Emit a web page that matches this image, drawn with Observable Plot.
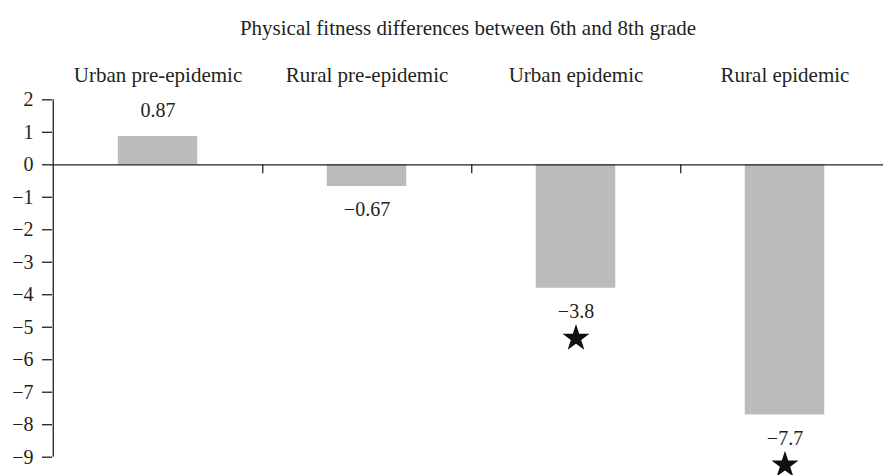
<!DOCTYPE html>
<html><head><meta charset="utf-8">
<script src="https://cdn.jsdelivr.net/npm/d3@7"></script>
<script src="https://cdn.jsdelivr.net/npm/@observablehq/plot@0.6"></script>
<style>
html,body{margin:0;padding:0;background:#fff;}
svg{display:block;}
</style>
</head><body><div id="chart"></div>
<script>
const title = "Physical fitness differences between 6th and 8th grade";
const categories = ["Urban pre-epidemic", "Rural pre-epidemic", "Urban epidemic", "Rural epidemic"];
const values = [0.87, -0.67, -3.8, -7.7];
const significant = [false, false, true, true];
const yTicks = [2, 1, 0, -1, -2, -3, -4, -5, -6, -7, -8, -9];

const data = categories.map((c, i) => ({category: c, value: values[i], sig: significant[i]}));

const W = 883, H = 475;
const mL = 52, mT = 99.3, mB = 475 - 456.7;
const xRange = [mL, 890];
const bw = (xRange[1] - xRange[0]) / categories.length;
const barW = 80;
const pxPerUnit = (H - mB - mT) / (2 - (-9));
const fmt = v => (v < 0 ? "\u2212" : "") + Math.abs(v);
const ink = "#231f20";
const fsNum = 20, fsText = 21;

const plot = Plot.plot({
  width: W, height: H,
  marginLeft: mL, marginRight: 0, marginTop: mT, marginBottom: mB,
  style: {fontFamily: "'Liberation Serif', 'DejaVu Serif', serif", fontSize: fsNum + "px", color: ink, background: "#fff"},
  x: {domain: categories, range: xRange, padding: 0, axis: null},
  y: {domain: [-9, 2], axis: null},
  marks: [
    Plot.barY(data, {x: "category", y: "value", fill: "#bbbbbb", insetLeft: (bw - barW) / 2, insetRight: (bw - barW) / 2}),
    Plot.ruleY([0], {stroke: ink, strokeWidth: 1.3}),
    Plot.ruleX(categories.slice(0, -1), {x: d => d, y1: 0, y2: -9 / pxPerUnit, dx: bw / 2, stroke: ink, strokeWidth: 1.3}),
    Plot.ruleX([categories[0]], {x: d => d, y1: -9, y2: 2, dx: -bw / 2, stroke: ink, strokeWidth: 1.3}),
    Plot.axisY({ticks: yTicks, tickSize: 10, tickPadding: 9, tickFormat: fmt, label: null, stroke: ink, strokeWidth: 1.3, fontSize: fsNum, fill: ink}),
    Plot.text(data.filter(d => d.value >= 0), {x: "category", y: "value", text: d => fmt(d.value), dy: -26, fill: ink, fontSize: fsNum}),
    Plot.text(data.filter(d => d.value < 0), {x: "category", y: "value", text: d => fmt(d.value), dy: 23.5, fill: ink, fontSize: fsNum}),
    Plot.dot(data.filter(d => d.sig), {x: "category", y: "value", symbol: "star", r: 8.5, fill: "#111", stroke: null, dy: 50}),
    Plot.text(categories, {x: d => d, frameAnchor: "top", lineAnchor: "middle", dy: -25, fill: ink, fontSize: fsText}),
    Plot.text([title], {frameAnchor: "top", lineAnchor: "middle", dy: -72, fill: ink, fontSize: fsText})
  ]
});
document.getElementById("chart").appendChild(plot);
</script>
</body></html>
